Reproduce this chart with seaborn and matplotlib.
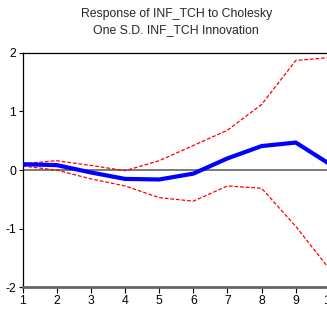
import matplotlib
matplotlib.use("Agg")
import matplotlib.pyplot as plt
import numpy as np
import pandas as pd
import seaborn as sns

### Data ###

periods = [1, 2, 3, 4, 5, 6, 7, 8, 9, 10]
response = [0.10, 0.085, -0.04, -0.15, -0.16, -0.06, 0.20, 0.41, 0.47, 0.10]
upper = [0.11, 0.16, 0.08, -0.01, 0.16, 0.42, 0.68, 1.12, 1.87, 1.92]
lower = [0.07, 0.00, -0.15, -0.27, -0.47, -0.53, -0.27, -0.31, -0.96, -1.70]

title_lines = ["Response of INF_TCH to Cholesky", "One S.D. INF_TCH Innovation"]

df = pd.DataFrame({
    "period": periods,
    "response": response,
    "upper": upper,
    "lower": lower
})

### Figure ###

sns.set_style("ticks")
plt.rcParams["font.family"] = ["Liberation Sans", "DejaVu Sans"]
plt.rcParams["axes.unicode_minus"] = False   # EViews style uses plain hyphens

fig = plt.figure(figsize=(3.27, 3.09), dpi=100)
ax = fig.add_axes([0.069, 0.070, 0.940, 0.759])

ax.axhline(0, color="#707070", linewidth=1.3, zorder=1)

sns.lineplot(data=df, x="period", y="upper", ax=ax, color="red",
             linewidth=0.9, linestyle=(0, (3, 1.5)), zorder=2)
sns.lineplot(data=df, x="period", y="lower", ax=ax, color="red",
             linewidth=0.9, linestyle=(0, (3, 1.5)), zorder=2)
sns.lineplot(data=df, x="period", y="response", ax=ax, color="blue",
             linewidth=3.0, zorder=3)

ax.set_xlim(1, 10)
ax.set_ylim(-2, 2)
ax.set_xticks(periods)
ax.set_yticks([-2, -1, 0, 1, 2])
ax.set_xlabel("")
ax.set_ylabel("")

for side in ["left", "top"]:
    ax.spines[side].set_color("black")
    ax.spines[side].set_linewidth(0.9)
ax.spines["right"].set_visible(False)
ax.spines["bottom"].set_color("#666666")
ax.spines["bottom"].set_linewidth(2.0)

ax.tick_params(axis="y", direction="out", length=3, width=0.8, pad=1.5,
               labelsize=8.7, colors="black")
ax.tick_params(axis="x", direction="out", length=4, width=0.8, pad=1.5,
               labelsize=8.7, colors="black")

fig.text(0.539, 0.955, title_lines[0], ha="center", va="center", fontsize=8.8)
fig.text(0.539, 0.903, title_lines[1], ha="center", va="center", fontsize=8.8)

fig.savefig("out.png", dpi=100)
